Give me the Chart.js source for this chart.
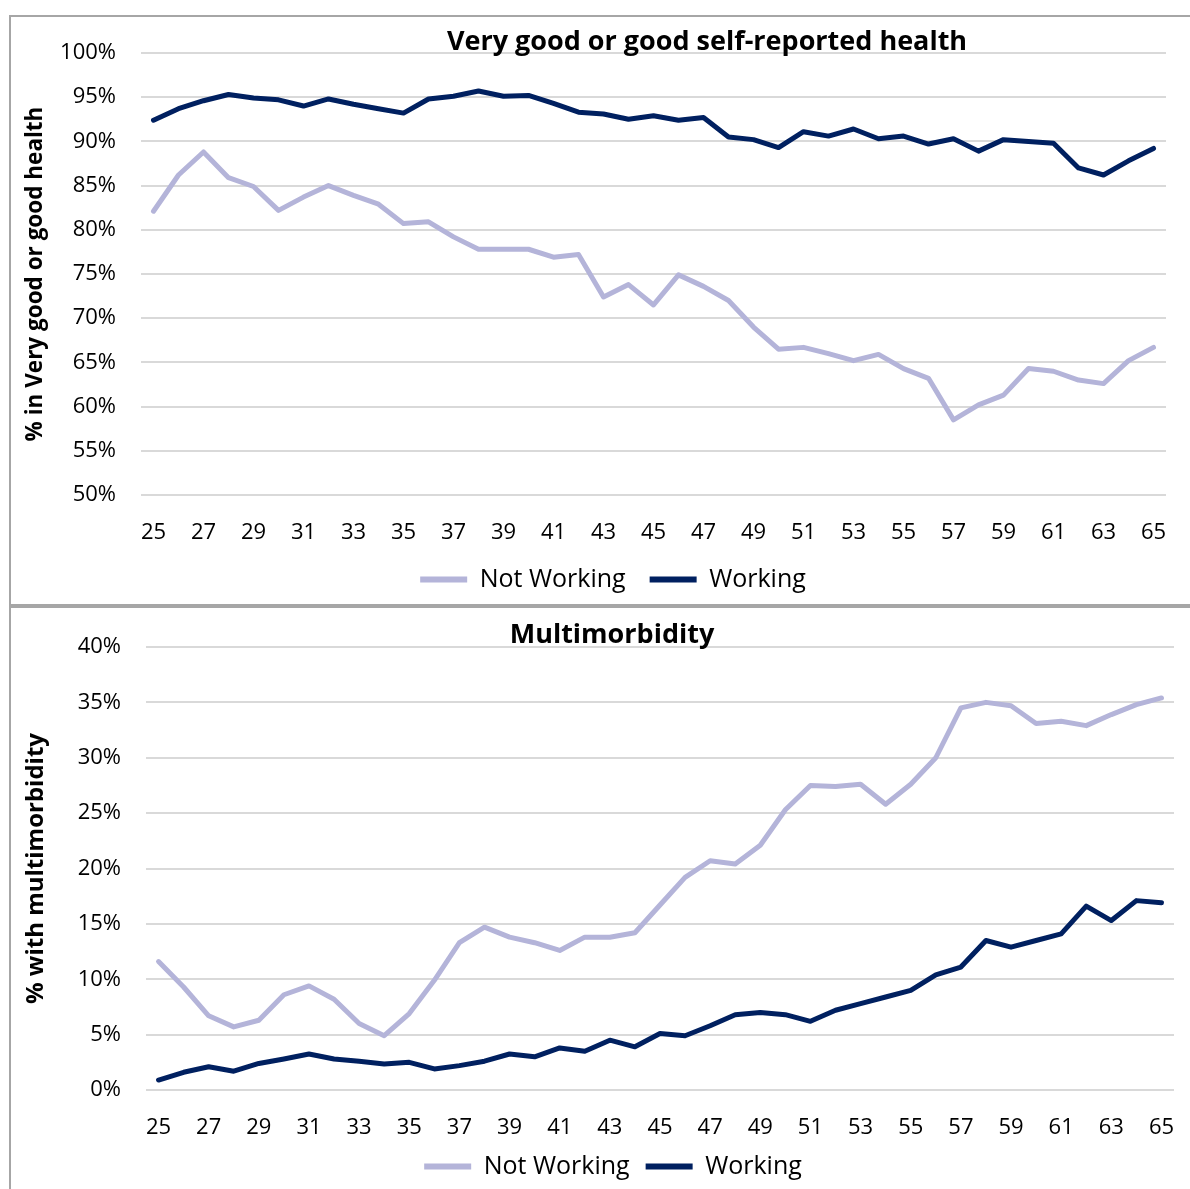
<!DOCTYPE html>
<html><head><meta charset="utf-8">
<script src="https://cdn.jsdelivr.net/npm/chart.js@4"></script>
<style>
html,body{margin:0;padding:0;background:#fff;overflow:hidden;width:1190px;height:1189px;position:relative;}
.panel{position:absolute;border:2px solid #a6a6a6;box-sizing:border-box;}
.cw{position:absolute;left:0;}
</style></head><body>
<div class="panel" style="left:9px;top:15px;width:1300px;height:591px;"></div>
<div class="panel" style="left:9px;top:606px;width:1300px;height:700px;"></div>
<div class="cw" style="top:0;"><canvas id="c1" width="1226" height="604"></canvas></div>
<div class="cw" style="top:606px;"><canvas id="c2" width="1226" height="583"></canvas></div>
<script>
const ages = ['25','26','27','28','29','30','31','32','33','34','35','36','37','38','39','40','41','42','43','44','45','46','47','48','49','50','51','52','53','54','55','56','57','58','59','60','61','62','63','64','65'];
const seriesNames = ['Not Working', 'Working'];

const healthNotWorking = [82.1,86.2,88.8,85.9,84.9,82.2,83.7,85.0,83.9,82.9,80.7,80.9,79.2,77.8,77.8,77.8,76.9,77.2,72.4,73.8,71.5,74.9,73.6,72.0,69.0,66.5,66.7,66.0,65.2,65.9,64.3,63.2,58.5,60.2,61.3,64.3,64.0,63.0,62.6,65.2,66.7];
const healthWorking = [92.4,93.7,94.6,95.3,94.9,94.7,94.0,94.8,94.2,93.7,93.2,94.8,95.1,95.7,95.1,95.2,94.3,93.3,93.1,92.5,92.9,92.4,92.7,90.5,90.2,89.3,91.1,90.6,91.4,90.3,90.6,89.7,90.3,88.9,90.2,90.0,89.8,87.0,86.2,87.8,89.2];

const multiNotWorking = [11.6,9.3,6.7,5.7,6.3,8.6,9.4,8.2,6.0,4.9,6.9,9.9,13.3,14.7,13.8,13.3,12.6,13.8,13.8,14.2,16.7,19.2,20.7,20.4,22.1,25.3,27.5,27.4,27.6,25.8,27.6,30.0,34.5,35.0,34.7,33.1,33.3,32.9,33.9,34.8,35.4];
const multiWorking = [0.9,1.6,2.1,1.7,2.4,2.8,3.25,2.8,2.6,2.35,2.5,1.9,2.2,2.6,3.25,3.0,3.8,3.5,4.5,3.9,5.1,4.9,5.8,6.8,7.0,6.8,6.2,7.2,7.8,8.4,9.0,10.4,11.1,13.5,12.9,13.5,14.1,16.6,15.3,17.1,16.9];

const titles = ['Very good or good self-reported health', 'Multimorbidity'];
const yTitles = ['% in Very good or good health', '% with multimorbidity'];

const FONT = '"Open Sans", "Liberation Sans", sans-serif';
const LIGHT = '#b4b4d9';
const DARK = '#002060';

const panelTitle = {
  id: 'panelTitle',
  afterDraw(chart, args, opts) {
    const ctx = chart.ctx;
    ctx.save();
    ctx.font = 'bold 27px ' + FONT;
    ctx.fillStyle = '#000';
    ctx.textAlign = 'center';
    ctx.textBaseline = 'middle';
    ctx.fillText(opts.text, opts.x, opts.y);
    ctx.restore();
  }
};

function makeChart(id, notW, w, yMin, yMax, title, yTitle, cfg) {
  return new Chart(document.getElementById(id), {
    type: 'line',
    data: {
      labels: ages,
      datasets: [
        { label: seriesNames[0], data: notW, borderColor: LIGHT, backgroundColor: LIGHT, borderWidth: 5, pointRadius: 0, tension: 0, borderCapStyle: 'round', borderJoinStyle: 'round' },
        { label: seriesNames[1], data: w, borderColor: DARK, backgroundColor: DARK, borderWidth: 5, pointRadius: 0, tension: 0, borderCapStyle: 'round', borderJoinStyle: 'round' }
      ]
    },
    options: {
      responsive: false,
      animation: false,
      devicePixelRatio: 1,
      layout: { padding: { top: cfg.top, right: 0, bottom: cfg.bottom, left: 0 } },
      plugins: {
        title: { display: false },
        tooltip: { enabled: false },
        panelTitle: { text: title, x: cfg.titleX, y: cfg.titleY },
        legend: {
          position: 'bottom',
          labels: {
            font: { family: FONT, size: 25 },
            color: '#000',
            boxWidth: 47,
            boxHeight: 6,
            padding: cfg.legPad,
            generateLabels(chart) {
              return chart.data.datasets.map((d, i) => ({
                text: d.label, fillStyle: d.borderColor, strokeStyle: d.borderColor, lineWidth: 0, hidden: false, datasetIndex: i
              }));
            }
          }
        }
      },
      scales: {
        x: {
          offset: true,
          grid: { display: false },
          border: { display: false },
          afterFit(s) { s.height = cfg.xh; },
          ticks: {
            autoSkip: false, maxRotation: 0, padding: 19,
            font: { family: FONT, size: 22, lineHeight: 1 }, color: '#000',
            callback(v, i) { return i % 2 === 0 ? ages[i] : ''; }
          }
        },
        y: {
          min: yMin, max: yMax,
          afterFit(s) { s.width = cfg.yw; },
          grid: { color: '#d9d9d9', lineWidth: 2, drawTicks: false },
          border: { display: false },
          ticks: { stepSize: 5, padding: 25, font: { family: FONT, size: 22 }, color: '#000', callback: v => v + '%' },
          title: { display: true, text: yTitle, font: { family: FONT, size: cfg.ytSize, weight: 'bold' }, color: '#000', padding: { top: 22, bottom: 0 } }
        },
        yr: {
          position: 'right',
          display: true,
          grid: { display: false, drawTicks: false },
          border: { display: false },
          ticks: { display: false },
          afterFit(s) { s.width = cfg.rw; }
        }
      }
    },
    plugins: [panelTitle]
  });
}

makeChart('c1', healthNotWorking, healthWorking, 50, 100, titles[0], yTitles[0],
  { top: 53, bottom: 2, xh: 48, yw: 141, rw: 60, legPad: 24, ytSize: 22.5, titleX: 707, titleY: 42 });
makeChart('c2', multiNotWorking, multiWorking, 0, 40, titles[1], yTitles[1],
  { top: 41, bottom: 0, xh: 48, yw: 146, rw: 52, legPad: 16, ytSize: 24, titleX: 612, titleY: 29 });
</script>
</body></html>
